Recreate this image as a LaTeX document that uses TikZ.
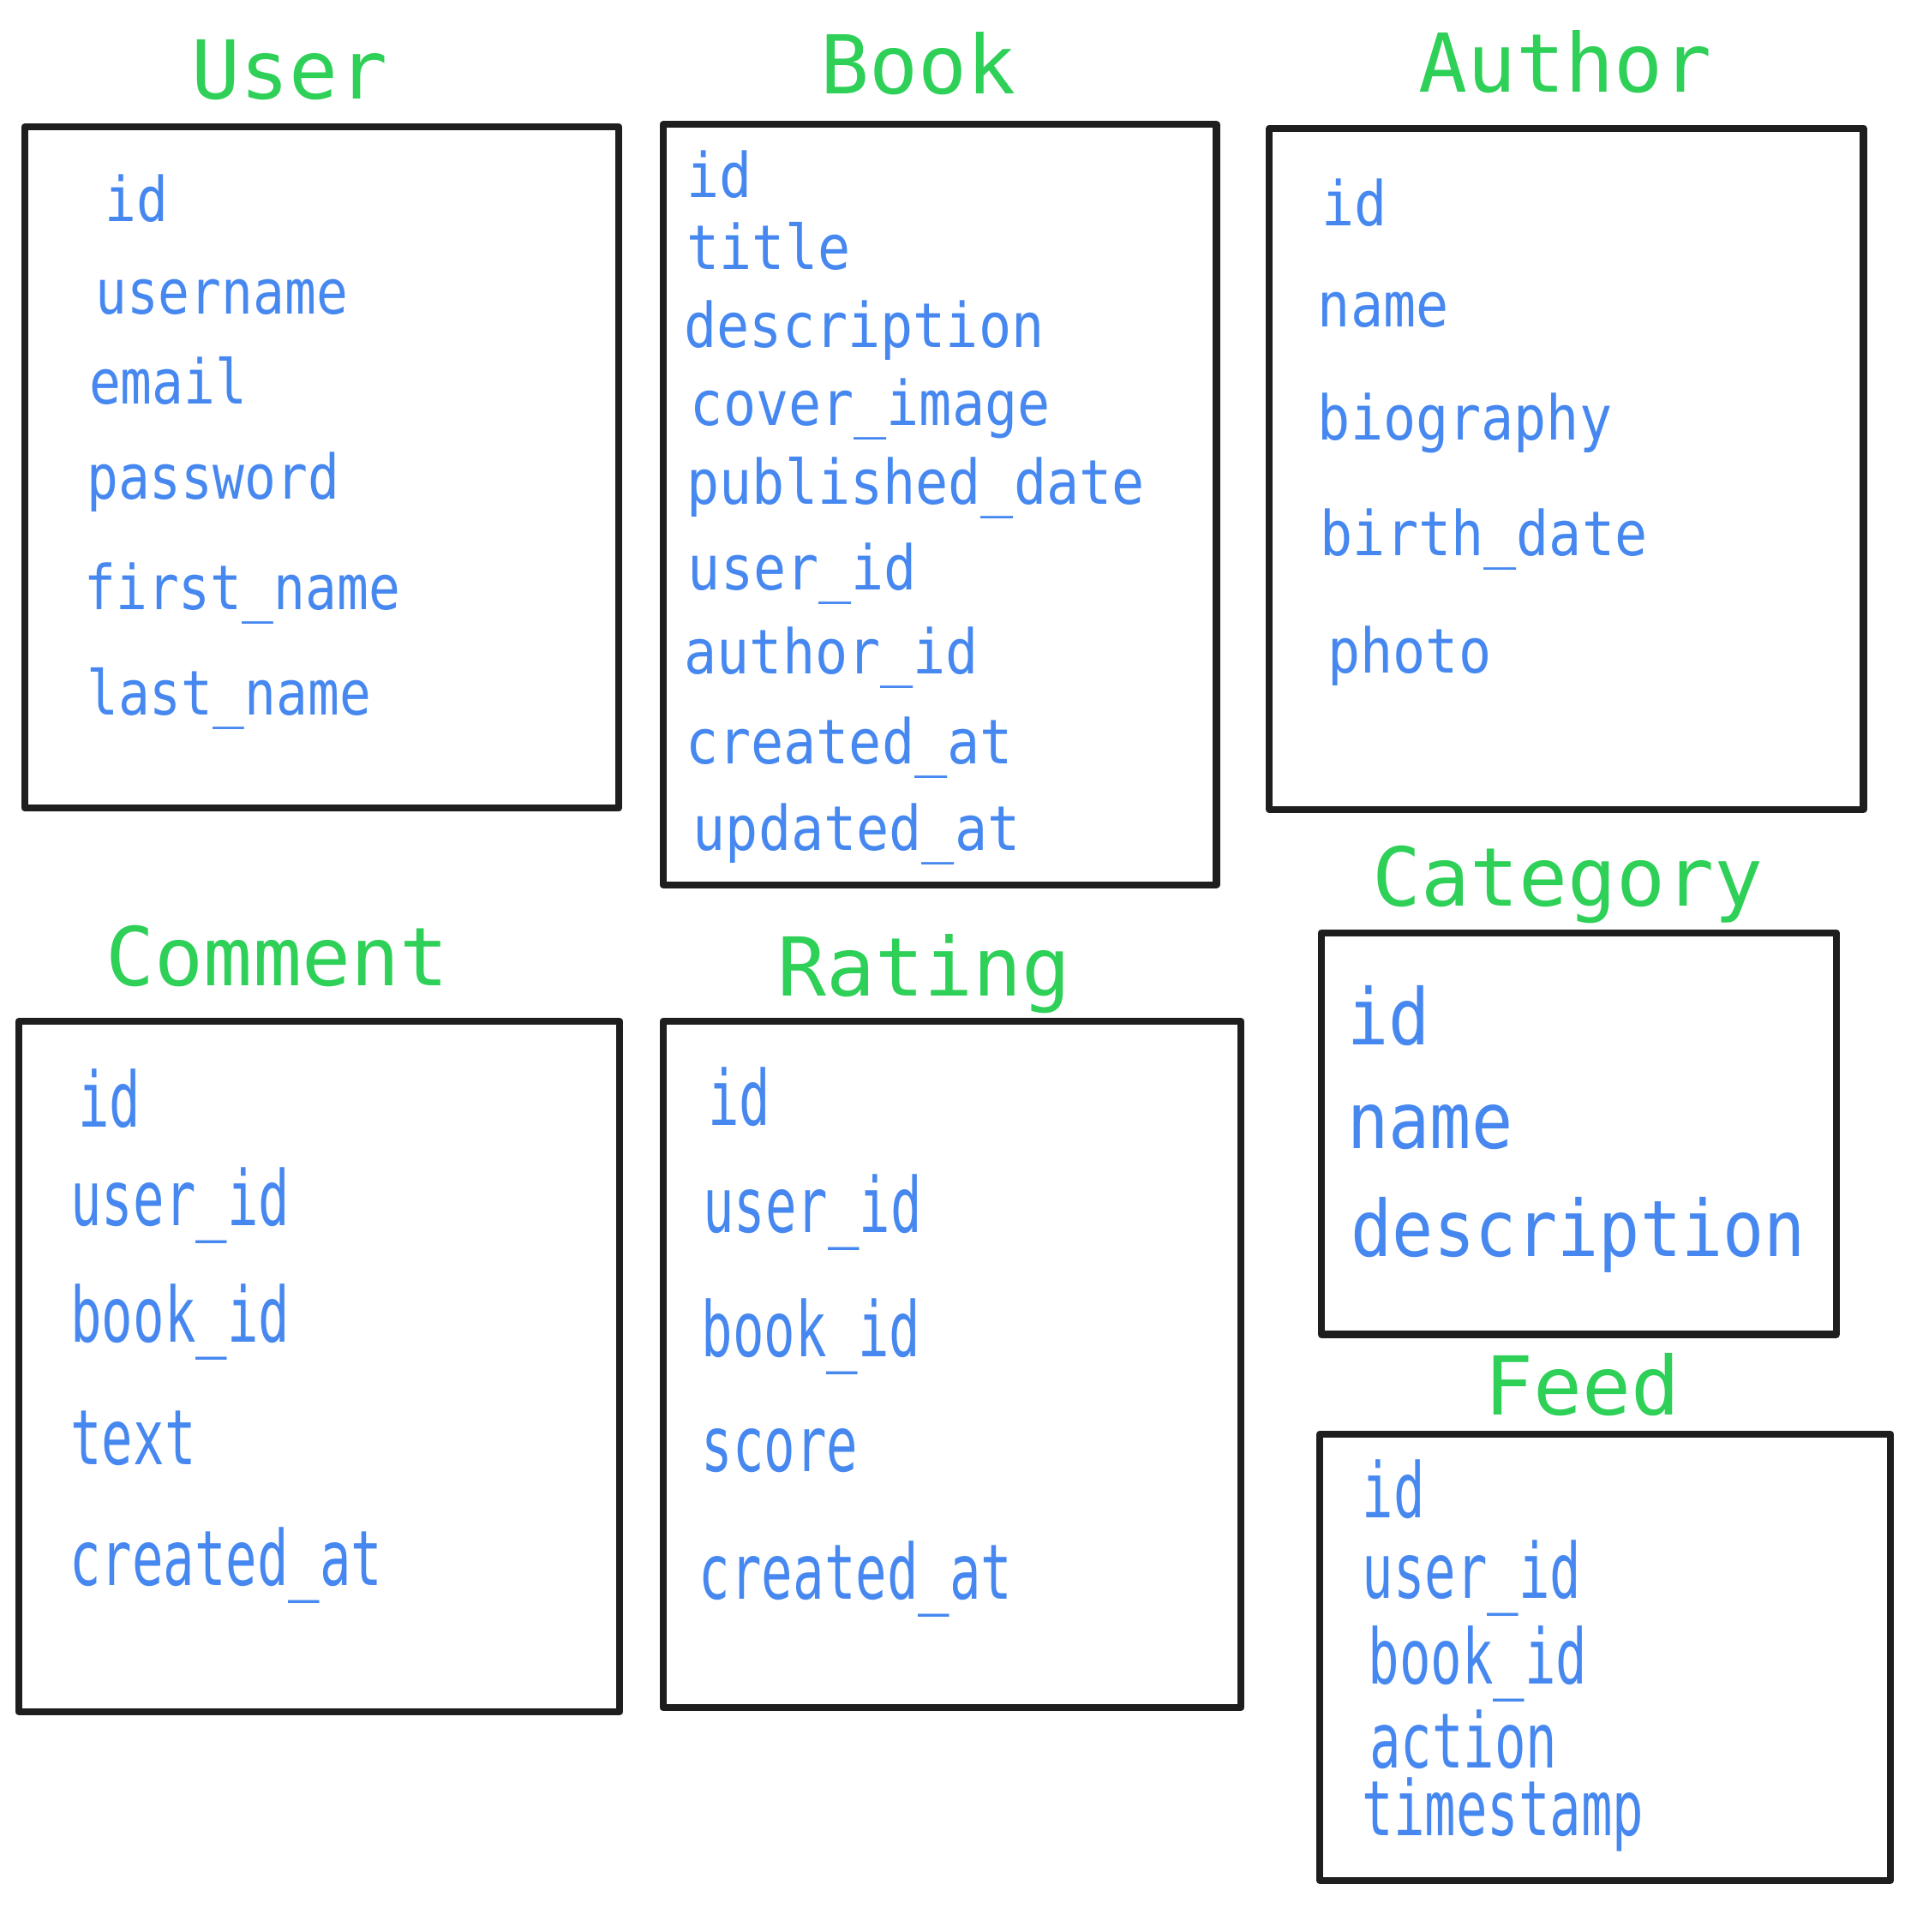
\documentclass[tikz,border=0pt]{standalone}
\usepackage{fontspec}
\usepackage{tikz}
\newfontfamily\titlefont{DejaVu Sans Mono}
\newfontfamily\fieldfont[FakeStretch=0.88]{DejaVu Sans Mono}
\newfontfamily\userfont[FakeStretch=0.85]{DejaVu Sans Mono}
\newfontfamily\tallfont[FakeStretch=0.68]{DejaVu Sans Mono}
\newfontfamily\catfont[FakeStretch=0.88]{DejaVu Sans Mono}
\definecolor{titlegreen}{RGB}{46,208,88}
\definecolor{fieldblue}{RGB}{70,136,240}
\definecolor{boxblack}{RGB}{30,30,30}
\tikzset{
  title/.style={anchor=base, inner sep=0pt, text=titlegreen, font=\titlefont\fontsize{37.5}{40}\selectfont},
  field/.style={anchor=base west, inner sep=0pt, text=fieldblue, font=\fieldfont\fontsize{28.5}{30}\selectfont},
  userfield/.style={field, font=\userfont\fontsize{28.5}{30}\selectfont},
  tallfield/.style={anchor=base west, inner sep=0pt, text=fieldblue, font=\tallfont\fontsize{35.3}{37}\selectfont},
  catfield/.style={anchor=base west, inner sep=0pt, text=fieldblue, font=\catfont\fontsize{36}{38}\selectfont},
  table/.style={draw=boxblack, line width=3.2pt, line join=round}
}

\begin{document}
\begin{tikzpicture}[x=0.2mm, y=-0.2mm]
	\useasboundingbox (0,0) rectangle (1550,1568);
	% tables
	\draw[table] (20,103) rectangle (502,656);
	\draw[table] (538,101) rectangle (987,718);
	\draw[table] (1030,104) rectangle (1512,657);
	\draw[table] (1072,757) rectangle (1490,1083);
	\draw[table] (1071,1164) rectangle (1534,1526);
	\draw[table] (15,829) rectangle (503,1389);
	\draw[table] (538,829) rectangle (1007,1386);
	% titles
	\node[title] (user) at (235,80) {User};
	\node[title] (book) at (745,76) {Book};
	\node[title] (author) at (1270,75) {Author};
	\node[title] (category) at (1272,735) {Category};
	\node[title] (comment) at (225,800) {Comment};
	\node[title] (rating) at (750,808) {Rating};
	\node[title] (feed) at (1284,1148) {Feed};
	% User
	\node[userfield] (user-id) at (85,180) {id};
	\node[userfield] (user-username) at (77,255) {username};
	\node[userfield] (user-email) at (72,328) {email};
	\node[userfield] (user-password) at (70,405) {password};
	\node[userfield] (user-first) at (68,495) {first\_name};
	\node[userfield] (user-last) at (70,580) {last\_name};
	% Book
	\node[field] (book-id) at (557,160) {id};
	\node[field] (book-title) at (557,219) {title};
	\node[field] (book-desc) at (555,282) {description};
	\node[field] (book-cover) at (560,345) {cover\_image};
	\node[field] (book-pub) at (557,409) {published\_date};
	\node[field] (book-user) at (558,479) {user\_id};
	\node[field] (book-author) at (555,547) {author\_id};
	\node[field] (book-created) at (556,620) {created\_at};
	\node[field] (book-updated) at (562,690) {updated\_at};
	% Author
	\node[field] (author-id) at (1072,183) {id};
	\node[field] (author-name) at (1069,265) {name};
	\node[field] (author-bio) at (1069,357) {biography};
	\node[field] (author-birth) at (1071,451) {birth\_date};
	\node[field] (author-photo) at (1077,546) {photo};
	% Category
	\node[catfield] (cat-id) at (1093,848) {id};
	\node[catfield] (cat-name) at (1093,932) {name};
	\node[catfield] (cat-desc) at (1096,1020) {description};
	% Comment
	\node[tallfield] (comment-id) at (63,915) {id};
	\node[tallfield] (comment-user) at (57,995) {user\_id};
	\node[tallfield] (comment-book) at (57,1089) {book\_id};
	\node[tallfield] (comment-text) at (57,1189) {text};
	\node[tallfield] (comment-created) at (56,1287) {created\_at};
	% Rating
	\node[tallfield] (rating-id) at (574,913) {id};
	\node[tallfield] (rating-user) at (570,1000) {user\_id};
	\node[tallfield] (rating-book) at (569,1101) {book\_id};
	\node[tallfield] (rating-score) at (569,1194) {score};
	\node[tallfield] (rating-created) at (567,1298) {created\_at};
	% Feed
	\node[tallfield] (feed-id) at (1105,1232) {id};
	\node[tallfield] (feed-user) at (1105,1297) {user\_id};
	\node[tallfield] (feed-book) at (1110,1367) {book\_id};
	\node[tallfield] (feed-action) at (1111,1435) {action};
	\node[tallfield] (feed-time) at (1105,1490) {timestamp};
\end{tikzpicture}
\end{document}
